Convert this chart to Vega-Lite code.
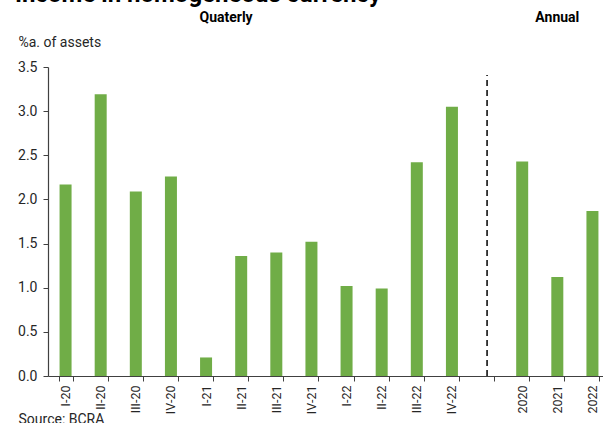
{
  "$schema": "https://vega.github.io/schema/vega-lite/v6.json",
  "width": 562,
  "height": 309,
  "autosize": {"type": "none"},
  "padding": {"left": 48, "top": 67, "right": 0, "bottom": 47},
  "background": "white",
  "config": {"view": {"stroke": null}, "font": "Roboto"},
  "datasets": {
    "bars": [
      {"period": "I-20", "value": 2.17},
      {"period": "II-20", "value": 3.19},
      {"period": "III-20", "value": 2.09},
      {"period": "IV-20", "value": 2.26},
      {"period": "I-21", "value": 0.21},
      {"period": "II-21", "value": 1.36},
      {"period": "III-21", "value": 1.40},
      {"period": "IV-21", "value": 1.52},
      {"period": "I-22", "value": 1.02},
      {"period": "II-22", "value": 0.99},
      {"period": "III-22", "value": 2.42},
      {"period": "IV-22", "value": 3.05},
      {"period": "2020", "value": 2.43},
      {"period": "2021", "value": 1.12},
      {"period": "2022", "value": 1.87}
    ],
    "divider": [{"period": "gap", "y0": 0, "y1": 3.41}],
    "quarterly": [{"period": "I-21", "label": "Quaterly", "y": 4.05}],
    "annual": [{"period": "2021", "label": "Annual", "y": 4.05}],
    "maintitle": [{"period": "I-20", "label": "Income in homogeneous currency", "y": 4.24}]
  },
  "layer": [
    {
      "data": {"name": "bars"},
      "mark": {"type": "bar", "color": "#70AD47", "width": 12},
      "encoding": {
        "x": {
          "field": "period", "type": "nominal", "sort": null,
          "scale": {"domain": ["I-20","II-20","III-20","IV-20","I-21","II-21","III-21","IV-21","I-22","II-22","III-22","IV-22","gap","2020","2021","2022"], "paddingInner": 0.6, "paddingOuter": 0.3},
          "axis": {
            "title": "Source: BCRA", "titleX": -30, "titleY": 43, "titleAlign": "left", "titleBaseline": "middle", "titleAngle": 0,
            "titleFontSize": 14, "titleFontWeight": "normal", "titleColor": "#262626", "titleFont": "Roboto",
            "labelAngle": -90, "labelAlign": "right", "labelBaseline": "middle", "labelFontSize": 12.5, "labelColor": "#262626", "labelFont": "Roboto", "labelPadding": 4,
            "labelExpr": "datum.value == 'gap' ? '' : datum.value",
            "tickBand": "extent", "tickSize": 5, "tickColor": "#404040", "domainColor": "#404040", "domainWidth": 1.2, "labelOverlap": false
          }
        },
        "y": {
          "field": "value", "type": "quantitative",
          "scale": {"domain": [0, 3.5], "nice": false},
          "axis": {
            "title": "%a. of assets", "titleAngle": 0, "titleX": -30, "titleY": -25, "titleAlign": "left", "titleBaseline": "middle",
            "titleFontSize": 14, "titleFontWeight": "normal", "titleColor": "#262626", "titleFont": "Roboto",
            "values": [0, 0.5, 1, 1.5, 2, 2.5, 3, 3.5], "format": ".1f",
            "labelFontSize": 14, "labelColor": "#262626", "labelFont": "Roboto", "labelPadding": 6,
            "tickSize": 5, "tickColor": "#404040", "domainColor": "#404040", "domainWidth": 1.2, "grid": false
          }
        }
      }
    },
    {
      "data": {"name": "divider"},
      "mark": {"type": "rule", "color": "#000000", "strokeWidth": 1.5, "strokeDash": [6, 4]},
      "encoding": {
        "x": {"field": "period", "type": "nominal"},
        "y": {"field": "y0", "type": "quantitative"},
        "y2": {"field": "y1"}
      }
    },
    {
      "data": {"name": "quarterly"},
      "mark": {"type": "text", "fontSize": 14, "fontWeight": "bold", "font": "Roboto", "color": "#000000", "baseline": "middle", "align": "center", "dx": 20, "clip": false},
      "encoding": {
        "x": {"field": "period", "type": "nominal"},
        "y": {"field": "y", "type": "quantitative"},
        "text": {"field": "label"}
      }
    },
    {
      "data": {"name": "annual"},
      "mark": {"type": "text", "fontSize": 14, "fontWeight": "bold", "font": "Roboto", "color": "#000000", "baseline": "middle", "align": "center", "clip": false},
      "encoding": {
        "x": {"field": "period", "type": "nominal"},
        "y": {"field": "y", "type": "quantitative"},
        "text": {"field": "label"}
      }
    },
    {
      "data": {"name": "maintitle"},
      "mark": {"type": "text", "fontSize": 24, "fontWeight": "bold", "font": "Roboto", "color": "#000000", "baseline": "alphabetic", "align": "left", "dx": -50.5, "clip": false},
      "encoding": {
        "x": {"field": "period", "type": "nominal"},
        "y": {"field": "y", "type": "quantitative"},
        "text": {"field": "label"}
      }
    }
  ]
}
